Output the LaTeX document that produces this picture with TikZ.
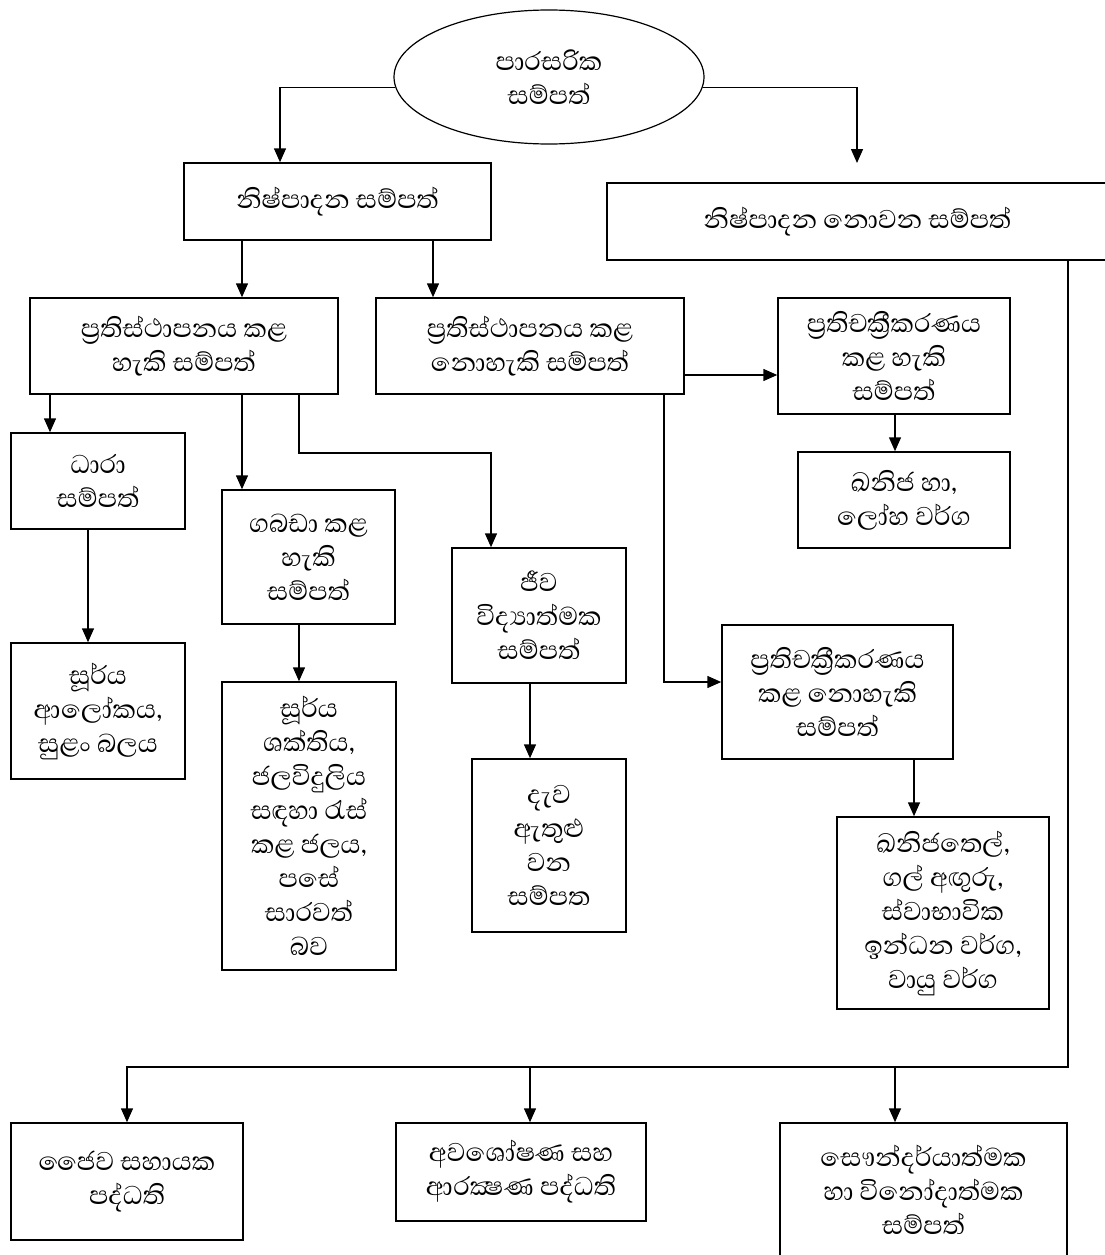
\documentclass[tikz,border=0pt]{standalone}
\usepackage{fontspec}
\setmainfont{Abhaya Libre}[Script=Sinhala]
\usetikzlibrary{shapes.geometric,arrows.meta}

\begin{document}
\begin{tikzpicture}[x=1pt,y=-1pt,
  box/.style={draw,line width=1.5pt,align=center,inner sep=0pt,font=\fontsize{33}{34}\selectfont},
  arr/.style={line width=1.5pt,-{Triangle[length=14pt,width=12pt]}}]
\useasboundingbox (0,0) rectangle (1104,1255);

\node[box,ellipse,line width=1.2pt,minimum width=310pt,minimum height=134pt] (env) at (549,77) {පාරසරික\\සම්පත්};

\node[box,minimum width=307pt,minimum height=77pt] (prod) at (337.5,201.5) {නිෂ්පාදන සම්පත්};
\node[box,minimum width=501pt,minimum height=77pt] (nonprod) at (857.5,221.5) {\raisebox{7pt}{නිෂ්පාදන නොවන සම්පත්}};
\coordinate (nonprodin) at (857,163);

\node[box,minimum width=308pt,minimum height=96pt] (renew) at (184,346) {ප්^^^^200dරතිස්ථාපනය කළ\\හැකි සම්පත්};
\node[box,minimum width=308pt,minimum height=96pt] (nonrenew) at (530,346) {ප්^^^^200dරතිස්ථාපනය කළ\\නොහැකි සම්පත්};
\node[box,minimum width=232pt,minimum height=116pt] (recyc) at (894,356) {ප්^^^^200dරතිචක්^^^^200dරීකරණය\\කළ හැකි\\සම්පත්};
\node[box,minimum width=212pt,minimum height=96pt] (mineral) at (904,500) {ඛනිජ හා,\\ලෝහ වර්ග};

\node[box,minimum width=174pt,minimum height=96pt] (flow) at (98,481) {ධාරා\\සම්පත්};
\node[box,minimum width=173pt,minimum height=134pt] (stored) at (308.5,557) {ගබඩා කළ\\හැකි\\සම්පත්};
\node[box,minimum width=174pt,minimum height=135pt] (bio) at (539,615.5) {ජීව\\විද්^^^^200dයාත්මක\\සම්පත්};
\node[box,minimum width=231pt,minimum height=134pt] (nonrecyc) at (837.5,692) {ප්^^^^200dරතිචක්^^^^200dරීකරණය\\කළ නොහැකි\\සම්පත්};

\node[box,minimum width=174pt,minimum height=136pt] (solar) at (98,711) {සූර්ය\\ආලෝකය,\\සුළං බලය};
\node[box,minimum width=174pt,minimum height=288pt] (water) at (309,826) {සූර්ය\\ශක්තිය,\\ජලවිදුලිය\\සඳහා රැස්\\කළ ජලය,\\පසේ\\සාරවත්\\බව};
\node[box,minimum width=154pt,minimum height=173pt] (timber) at (549,845.5) {දැව\\ඇතුළු\\වන\\සම්පත};
\node[box,minimum width=212pt,minimum height=192pt] (fuel) at (943,913) {ඛනිජතෙල්,\\ගල් අඟුරු,\\ස්වාභාවික\\ඉන්ධන වර්ග,\\වායු වර්ග};

\node[box,minimum width=232pt,minimum height=117pt] (life) at (127,1181.5) {ජෛව සහායක\\පද්ධති};
\node[box,minimum width=250pt,minimum height=98pt] (absorb) at (521,1172) {අවශෝෂණ සහ\\ආරක්^^^^200dෂණ පද්ධති};
\node[box,minimum width=287pt,minimum height=134pt] (aesth) at (923.5,1190) {සෞන්දර්යාත්මක\\හා විනෝදාත්මක\\සම්පත්};
\coordinate (bus) at (127,1067);

% top level
\draw[arr] (env.184) -| ([xshift=-57.5pt]prod.north);
\draw[arr] (env.-4) -| (nonprodin);

% produced resources
\draw[arr] ([xshift=58pt]renew.north |- prod.south) -- ([xshift=58pt]renew.north);
\draw[arr] ([xshift=-97pt]nonrenew.north |- prod.south) -- ([xshift=-97pt]nonrenew.north);
\draw[arr] ([xshift=-48pt]flow.north |- renew.south) -- ([xshift=-48pt]flow.north);
\draw[arr] ([xshift=-66.5pt]stored.north |- renew.south) -- ([xshift=-66.5pt]stored.north);
\draw[arr] ([xshift=115pt]renew.south) -- ++(0,58) -| ([xshift=-48pt]bio.north);
\draw[arr] ([xshift=-10pt]solar.north |- flow.south) -- ([xshift=-10pt]solar.north);
\draw[arr] ([xshift=-10pt]water.north |- stored.south) -- ([xshift=-10pt]water.north);
\draw[arr] ([xshift=-19pt]timber.north |- bio.south) -- ([xshift=-19pt]timber.north);

% non renewable side
\draw[arr] ([yshift=-29pt]nonrenew.east) -- ([yshift=-29pt]nonrenew.east -| recyc.west);
\draw[arr] ([xshift=-9pt]mineral.north |- recyc.south) -- ([xshift=-9pt]mineral.north);
\draw[arr] ([xshift=134pt]nonrenew.south) |- ([yshift=10pt]nonrecyc.west);
\draw[arr] ([xshift=-29pt]fuel.north |- nonrecyc.south) -- ([xshift=-29pt]fuel.north);

% non produced resources
\draw[arr] ([xshift=210.5pt]nonprod.south) |- (bus) -- (life.north);
\draw[arr] ([xshift=9pt]absorb.north |- bus) -- ([xshift=9pt]absorb.north);
\draw[arr] ([xshift=-28.5pt]aesth.north |- bus) -- ([xshift=-28.5pt]aesth.north);
\end{tikzpicture}
\end{document}
